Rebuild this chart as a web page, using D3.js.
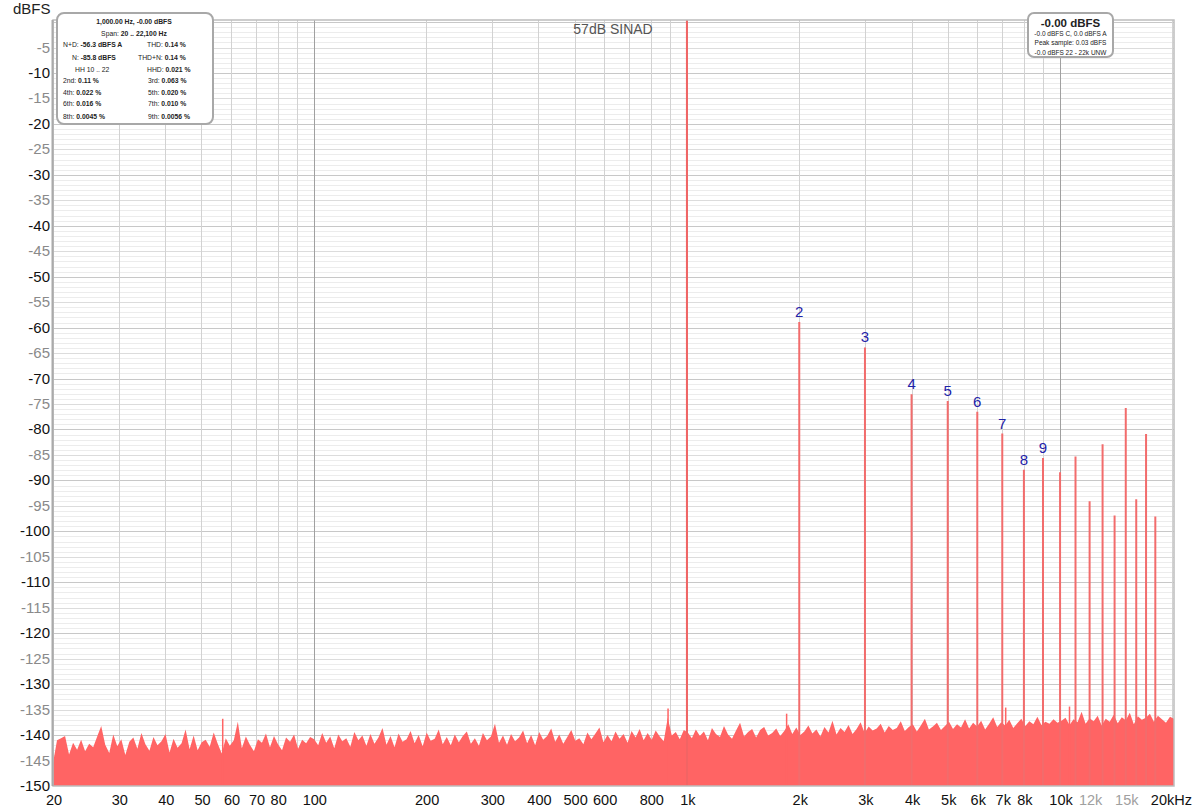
<!DOCTYPE html>
<html><head><meta charset="utf-8">
<script src="https://cdn.jsdelivr.net/npm/d3@7"></script>
<style>
html,body{margin:0;padding:0;background:#fff;}
svg{display:block;font-family:"Liberation Sans",Arial,sans-serif;}
</style></head>
<body>
<svg id="chart" width="1200" height="811"></svg>
<script>
// ---------------- DATA ----------------
const xTickValues = [20,30,40,50,60,70,80,100,200,300,400,500,600,800,1000,2000,3000,4000,5000,6000,7000,8000,10000,12000,15000,20000];
const xTickLabels = ["20","30","40","50","60","70","80","100","200","300","400","500","600","800","1k","2k","3k","4k","5k","6k","7k","8k","10k","12k","15k","20kHz"];
const xTickMuted = ["12k","15k"];
const yTickValues = d3.range(-5, -151, -5);

const fundamentalFreq = 1000;
const fundamentalLevel = 0;

const harmonicFreqs  = [2000,3000,4000,5000,6000,7000,8000,9000,10000,11000,12000,13000,14000,15000,16000,17000,18000];
const harmonicLevels = [-58.9,-63.9,-73.1,-74.4,-76.5,-80.8,-87.9,-85.6,-88.4,-85.3,-94.1,-82.9,-96.9,-75.8,-93.7,-80.9,-97.1];
const harmonicLabels = ["2","3","4","5","6","7","8","9","","","","","","","","",""];

const spurFreqs  = [57, 890, 1850, 7150, 10600];
const spurLevels = [-136.8, -134.8, -135.8, -134.6, -134.4];

// noise floor top (dBFS), sampled left to right on a log grid 20 Hz .. 20.2 kHz
const noiseLow = [-145.5,-141.0,-140.6,-140.2,-143.8,-141.5,-142.9,-140.9,-143.2,-141.7,-142.4,-140.3,-138.2,-141.9,-143.5,-139.9,-142.2,-140.8,-143.9,-141.3,-140.5,-142.7,-139.6,-141.8,-143.1,-140.4,-142.0,-141.2,-139.8,-143.4,-140.7,-142.5,-141.6,-138.9,-142.8,-140.1,-143.0,-141.4,-140.9,-142.3,-139.5,-141.7,-143.6,-140.6,-142.1,-141.0,-137.4,-142.6,-140.3,-141.9,-143.2,-140.8,-141.5,-139.7,-142.4,-140.2,-141.8,-143.0,-140.5,-141.3,-139.9,-142.7,-140.9,-141.6,-140.4];
const noiseMidLow = [-140.8,-142.0,-139.6,-141.5,-140.3,-142.6,-139.9,-141.2,-140.6,-142.3,-139.4,-141.0,-140.1,-142.1,-139.8,-141.7,-140.5,-138.6,-141.9,-140.2,-142.4,-139.7,-141.3,-140.8,-139.2,-141.6,-140.0,-142.2,-139.5,-141.1,-140.7,-138.9,-141.8,-140.4,-142.0,-139.9,-141.4,-140.2,-139.3,-141.7,-140.6,-142.1,-139.6,-141.0,-140.3,-137.8,-141.5,-140.1,-141.9,-139.8,-141.2,-140.5,-139.1,-141.6,-140.0,-142.0,-139.4,-140.9,-140.2,-138.7,-141.3,-139.9,-141.7,-140.4,-139.0,-141.1,-140.6,-141.8,-139.5,-140.8,-139.7,-138.5,-141.4,-140.0,-141.2,-139.3,-140.7,-139.8,-141.5,-139.2,-140.5,-138.8,-141.0,-139.6,-140.9,-139.1,-140.3,-141.2,-136.6,-140.1,-139.4,-140.8,-139.0];
const noiseMidHigh = [-139.5,-140.6,-138.9,-140.2,-139.3,-141.0,-138.6,-139.8,-140.4,-138.2,-139.9,-140.7,-139.1,-137.6,-140.3,-139.4,-138.8,-140.5,-139.0,-138.4,-140.1,-139.6,-138.7,-140.2,-139.2,-137.9,-139.8,-138.5,-140.0,-139.3,-138.1,-139.7,-138.9,-140.3,-138.4,-139.5,-137.2,-139.9,-138.6,-139.4,-138.0,-139.8,-138.8,-137.5,-139.6,-138.3,-139.1,-138.7,-137.8,-139.5,-138.2,-139.0,-138.6,-137.3,-139.2,-138.4,-137.9,-139.3,-138.1,-136.8,-138.9,-138.3,-137.6,-139.0,-138.2,-137.4,-138.8,-137.9,-138.5,-136.9,-138.7,-137.6,-138.3,-137.2,-138.9,-137.8,-136.5,-138.4,-137.5,-138.1,-137.0,-138.6,-137.7,-136.8,-138.2,-137.3,-137.9,-136.4,-138.0,-137.4,-137.8,-136.9,-137.6];
const noiseHigh = [-137.2,-136.6,-138.0,-136.9,-137.5,-135.4,-137.8,-136.7,-137.3,-136.2,-138.1,-136.8,-137.4,-136.0,-137.7,-136.5,-137.1,-135.6,-137.9,-136.3,-137.0,-136.6,-135.8,-137.4,-136.2,-136.9,-137.6,-136.4,-136.8];

const infoRows = [
  [["N+D:","-56.3 dBFS A",63],["THD:","0.14 %",147]],
  [["N:","-85.8 dBFS",72],["THD+N:","0.14 %",138]],
  [["HH 10 .. 22","",75],["HHD:","0.021 %",147]],
  [["2nd:","0.11 %",63],["3rd:","0.063 %",148]],
  [["4th:","0.022 %",63],["5th:","0.020 %",148]],
  [["6th:","0.016 %",63],["7th:","0.010 %",148]],
  [["8th:","0.0045 %",63],["9th:","0.0056 %",148]]
];
const rightBoxLines = ["-0.0 dBFS C, 0.0 dBFS A","Peak sample: 0.03 dBFS","-0.0 dBFS 22 - 22k UNW"];

// ---------------- CHART ----------------
const svg = d3.select("#chart");
const L = 53, R = 1174, T = 20, B = 786;
const x = d3.scaleLog().domain([20, 20200]).range([L, R]);
const y = d3.scaleLinear().domain([-150, 0.4]).range([B, T]);

// grid
const g = svg.append("g");
d3.range(-149, 1, 1).forEach(v => {
  const c = v % 10 === 0 ? "#c8c8c8" : (v % 5 === 0 ? "#dcdcdc" : "#ececec");
  g.append("line").attr("x1", L).attr("x2", R).attr("y1", Math.round(y(v))+0.5).attr("y2", Math.round(y(v))+0.5)
    .attr("stroke", c).attr("stroke-width", 1);
});
const vlines = [];
[10,100,1000,10000].forEach(d => { for (let k = 1; k <= 9; k++) { const f = k*d; if (f >= 20 && f <= 20200) vlines.push(f); } });
vlines.push(20000);
vlines.forEach(f => {
  const dec = [100,1000,10000].includes(f);
  g.append("line").attr("y1", T).attr("y2", B).attr("x1", Math.round(x(f))+0.5).attr("x2", Math.round(x(f))+0.5)
    .attr("stroke", dec ? "#a0a0a0" : "#d2d2d2").attr("stroke-width", 1);
});

// noise floor
const noise = noiseLow.concat(noiseMidLow, noiseMidHigh, noiseHigh);
const n = noise.length;
const noiseData = noise.map((v, i) => ({f: 20 * Math.pow(20200/20, i/(n-1)), v}));
svg.append("path").datum(noiseData)
  .attr("fill", "#ff6464")
  .attr("d", d3.area().x(d => x(d.f)).y0(B).y1(d => y(d.v)).curve(d3.curveLinear));

// spurs
spurFreqs.forEach((f, i) => {
  svg.append("line").attr("x1", x(f)).attr("x2", x(f)).attr("y1", B).attr("y2", y(spurLevels[i]))
    .attr("stroke", "#ff6464").attr("stroke-width", 1.5);
});

// harmonics
harmonicFreqs.forEach((f, i) => {
  svg.append("line").attr("x1", x(f)).attr("x2", x(f)).attr("y1", B).attr("y2", y(harmonicLevels[i]))
    .attr("stroke", "#f26c6c").attr("stroke-width", 2);
  if (harmonicLabels[i]) {
    svg.append("text").attr("x", x(f)).attr("y", y(harmonicLevels[i]) - 5)
      .attr("text-anchor", "middle").attr("font-size", 15).attr("fill", "#1e22a8").text(harmonicLabels[i]);
  }
});
// fundamental
svg.append("line").attr("x1", x(fundamentalFreq)).attr("x2", x(fundamentalFreq)).attr("y1", B).attr("y2", T)
  .attr("stroke", "#f26464").attr("stroke-width", 2);

// frame
svg.append("rect").attr("x", L).attr("y", T).attr("width", R-L).attr("height", B-T)
  .attr("fill", "none").attr("stroke", "#bdbdbd").attr("stroke-width", 1.5);
svg.append("line").attr("x1", L-0.5).attr("x2", L-0.5).attr("y1", T).attr("y2", B).attr("stroke", "#aaa").attr("stroke-width", 2);

// y axis labels
yTickValues.forEach(v => {
  svg.append("text").attr("x", 50).attr("y", y(v) + 5).attr("text-anchor", "end")
    .attr("font-size", 15).attr("fill", v % 10 === 0 ? "#111" : "#8a8a8a").text(v);
});
svg.append("text").attr("x", 13).attr("y", 14).attr("font-size", 15).attr("fill", "#222").text("dBFS");

// x axis labels
xTickValues.forEach((f, i) => {
  const lab = xTickLabels[i];
  svg.append("text").attr("x", x(f) + (lab === "20kHz" ? -1 : 1)).attr("y", 805).attr("text-anchor", "middle")
    .attr("font-size", 14.5).attr("fill", xTickMuted.includes(lab) ? "#a0a0a0" : "#111").text(lab);
});

// title
svg.append("text").attr("x", 613).attr("y", 34).attr("text-anchor", "middle").attr("font-size", 14)
  .attr("fill", "#555").text("57dB SINAD");

// left info box
const lb = svg.append("g");
lb.append("rect").attr("x", 57).attr("y", 13).attr("width", 156).attr("height", 111).attr("rx", 7)
  .attr("fill", "#fff").attr("stroke", "#a8a8a8").attr("stroke-width", 2);
lb.append("text").attr("x", 134).attr("y", 23.5).attr("text-anchor", "middle").attr("font-size", 6.8)
  .attr("font-weight", "bold").attr("fill", "#222").text("1,000.00 Hz, -0.00 dBFS");
const sp = lb.append("text").attr("x", 134).attr("y", 35.5).attr("text-anchor", "middle").attr("font-size", 6.8).attr("fill", "#222");
sp.append("tspan").text("Span: ");
sp.append("tspan").attr("font-weight", "bold").text("20 .. 22,100 Hz");
const rowY = [47, 59.5, 71.5, 82.5, 94.5, 106, 118.5];
infoRows.forEach((row, r) => {
  row.forEach(cell => {
    const t = lb.append("text").attr("x", cell[2]).attr("y", rowY[r]).attr("font-size", 6.8).attr("fill", "#222");
    t.append("tspan").text(cell[0]);
    if (cell[1]) t.append("tspan").attr("font-weight", "bold").text(" " + cell[1]);
  });
});

// right info box
const rb = svg.append("g");
rb.append("rect").attr("x", 1028).attr("y", 13).attr("width", 85).attr("height", 44).attr("rx", 6)
  .attr("fill", "#fff").attr("stroke", "#a8a8a8").attr("stroke-width", 2);
rb.append("text").attr("x", 1070.5).attr("y", 27).attr("text-anchor", "middle").attr("font-size", 11.5)
  .attr("font-weight", "bold").attr("fill", "#222").text("-0.00 dBFS");
rightBoxLines.forEach((s, i) => {
  rb.append("text").attr("x", 1070.5).attr("y", 36 + i * 9.3).attr("text-anchor", "middle").attr("font-size", 6.5)
    .attr("fill", "#222").text(s);
});
</script>
</body></html>
